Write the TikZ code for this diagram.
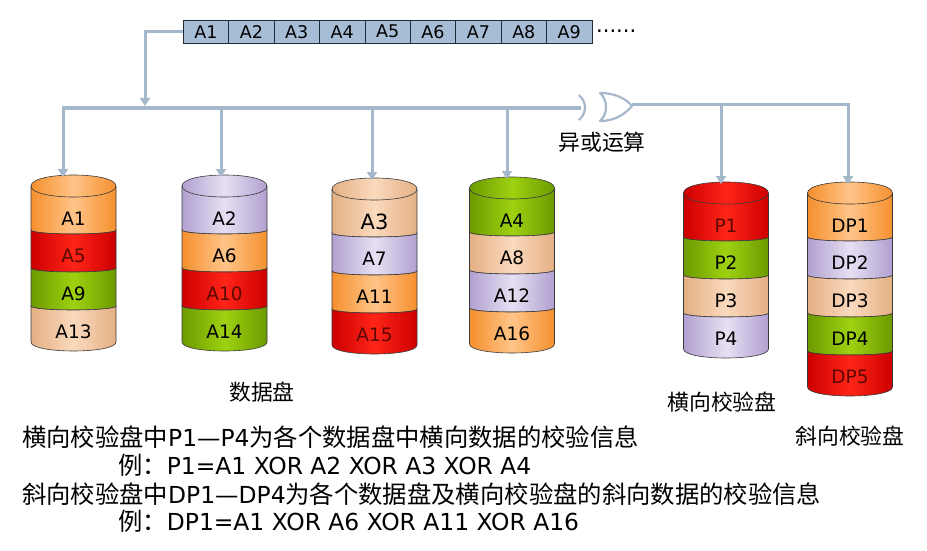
\documentclass[tikz,border=0pt]{standalone}
\usepackage{fontspec}
\setmainfont{DejaVu Sans}
\newfontfamily\cjk{Noto Sans CJK SC}[Scale=1.04]
\usetikzlibrary{arrows.meta}
\definecolor{conncol}{HTML}{A5B8CB}
\definecolor{cellfill}{HTML}{A7BDD6}
\definecolor{celldraw}{HTML}{1E2C3A}
\definecolor{edgecol}{HTML}{3A3A3A}
\definecolor{orngE}{HTML}{F5902E}\definecolor{orngM}{HTML}{FFC488}\colorlet{orngT}{black}
\definecolor{redE}{HTML}{CC0000}\definecolor{redM}{HTML}{FF2418}\definecolor{redT}{HTML}{5C0800}
\definecolor{grnE}{HTML}{6C9A00}\definecolor{grnM}{HTML}{9ED210}\colorlet{grnT}{black}
\definecolor{tanE}{HTML}{E4B084}\definecolor{tanM}{HTML}{FAD9BD}\colorlet{tanT}{black}
\definecolor{lavE}{HTML}{B0A0D0}\definecolor{lavM}{HTML}{E7E0F3}\colorlet{lavT}{black}
\tikzset{
  conn/.style={draw=conncol, line width=3pt},
  arr/.style={-{Triangle[width=10pt,length=8pt]}},
  cell/.style={draw=celldraw, line width=0.8pt, fill=cellfill, minimum width=45.4pt,
    minimum height=23.3pt, inner sep=0pt, font=\fontsize{17.5}{18}\selectfont},
  disklab/.style={inner sep=0pt, font=\fontsize{18.5}{19}\selectfont},
  zhlab/.style={inner sep=0pt, font=\fontsize{21}{24}\selectfont\cjk},
  textline/.style={inner sep=0pt, anchor=west, font=\fontsize{23.4}{28}\selectfont},
  edgeline/.style={draw=edgecol, line width=0.6pt}
}
% #1 name, #2 cx, #3 T (top ellipse centre), #4 number of bands, #5 list colour/label
\newcommand\mydisk[5]{%
  \coordinate (#1) at (#2,#3-11);
  \pgfmathsetmacro\xl{#2-42.5}
  \pgfmathsetmacro\xr{#2+42.5}
  \foreach \col/\lab [count=\i from 0] in {#5} {
    \pgfmathsetmacro\yt{\i==0 ? #3 : #3+44+38*(\i-1)}
    \pgfmathsetmacro\yb{(\i==#4-1) ? \yt+36 : #3+44+38*\i}
    \pgfmathsetmacro\ka{(\i==0) ? -14.67 : 5.33}
    \pgfmathsetmacro\kb{(\i==#4-1) ? 12 : 5.33}
    \pgfmathsetmacro\ly{(\i==0) ? #3+33 : \yt+26}
    \path[edgeline, left color=\col E, right color=\col E, middle color=\col M]
      (\xl,\yt) .. controls (\xl,\yt+\ka) and (\xr,\yt+\ka) .. (\xr,\yt)
      -- (\xr,\yb) .. controls (\xr,\yb+\kb) and (\xl,\yb+\kb) .. (\xl,\yb) -- cycle;
    \node[disklab, text=\col T] (#1-\i) at (#2,\ly) {\lab};
  }
  \draw[edgeline] (\xl,#3) .. controls (\xl,#3+14.67) and (\xr,#3+14.67) .. (\xr,#3);
}
\begin{document}
\begin{tikzpicture}[x=1pt,y=-1pt]
\useasboundingbox (0,0) rectangle (927,551);

% data stream
\foreach \k in {1,...,9}
  \node[cell] (a\k) at ({183.3+45.4*(\k-0.5)},31.7) {A\k};
\node[inner sep=0pt, anchor=west, font=\fontsize{21}{21}\selectfont] (dots) at (596,31) {......};

% disks
\mydisk{d1}{73.5}{186}{4}{orng/A1,red/A5,grn/A9,tan/A13}
\mydisk{d2}{224.5}{186}{4}{lav/A2,orng/A6,red/A10,grn/A14}
\mydisk{d3}{374.5}{189}{4}{tan/{\fontsize{21}{21}\selectfont A3},lav/A7,orng/A11,red/A15}
\mydisk{d4}{512}{188}{4}{grn/A4,tan/A8,lav/A12,orng/A16}
\mydisk{p}{726}{193}{4}{red/P1,grn/P2,tan/P3,lav/P4}
\mydisk{dp}{850}{193}{5}{orng/DP1,lav/DP2,tan/DP3,grn/DP4,red/DP5}

% XOR gate
\coordinate (gin) at (581,108);
\coordinate (gout) at (632,105);
\draw[draw=conncol, line width=2.2pt] (579,95) .. controls (587,102) and (587,113) .. (579,120);
\draw[draw=conncol, line width=2.2pt, line join=round]
  (600,93) .. controls (608,100) and (608,114) .. (600,121)
  .. controls (616,121) and (626,113) .. (632,106)
  .. controls (626,99) and (616,93) .. (600,93) -- cycle;

% connector coordinates
\coordinate (busin) at (145,106);
\coordinate (t1) at (63,177);
\coordinate (j2) at (221,108);  \coordinate (t2) at (221,177);
\coordinate (j3) at (372,108);  \coordinate (t3) at (372,180);
\coordinate (j4) at (507,108);  \coordinate (t4) at (507,179);
\coordinate (jp) at (721,105);  \coordinate (tp) at (721,184);
\coordinate (tdp) at (848,184);

\draw[conn, arr] (a1.west) -| (busin);
\draw[conn, arr] (gin) -| (t1);
\draw[conn, arr] (j2) -- (t2);
\draw[conn, arr] (j3) -- (t3);
\draw[conn, arr] (j4) -- (t4);
\draw[conn, arr] (gout) -| (tdp);
\draw[conn, arr] (jp) -- (tp);

% labels
\node[zhlab] (xorlab) at (602,142) {异或运算};
\node[zhlab] (datalab) at (262,392) {数据盘};
\node[zhlab] (plab) at (722,402) {横向校验盘};
\node[zhlab] (dplab) at (850,436) {斜向校验盘};

% explanation
\node[textline] (l1) at (22,437) {{\cjk 横向校验盘中}P1—P4{\cjk 为各个数据盘中横向数据的校验信息}};
\node[textline] (l2) at (118,465) {{\cjk 例：}P1=A1 XOR A2 XOR A3 XOR A4};
\node[textline] (l3) at (22,494) {{\cjk 斜向校验盘中}DP1—DP4{\cjk 为各个数据盘及横向校验盘的斜向数据的校验信息}};
\node[textline] (l4) at (118,521) {{\cjk 例：}DP1=A1 XOR A6 XOR A11 XOR A16};
\end{tikzpicture}
\end{document}
